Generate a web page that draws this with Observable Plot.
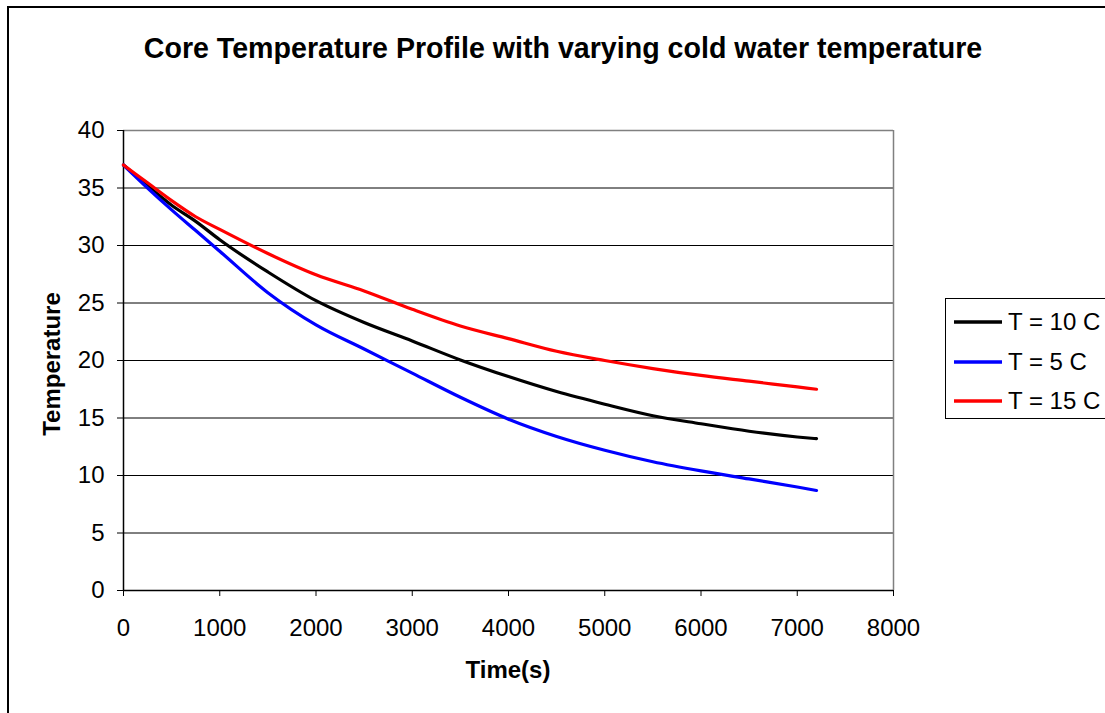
<!DOCTYPE html>
<html>
<head>
<meta charset="utf-8">
<script src="https://cdn.jsdelivr.net/npm/d3@7"></script>
<script src="https://cdn.jsdelivr.net/npm/@observablehq/plot@0.6"></script>
<style>
  html, body { margin: 0; padding: 0; background: #fff; overflow: hidden; }
  #wrap { position: relative; width: 1105px; height: 713px; font-family: "Liberation Sans", Arial, sans-serif; }
  #border { position: absolute; left: 7px; top: 6px; width: 1200px; height: 800px; border: 2px solid #000; box-sizing: border-box; }
  #chart { position: absolute; left: 0; top: 0; }
  .t { position: absolute; white-space: nowrap; color: #000; }
  #title { font-size: 28.6px; font-weight: bold; left: 563px; top: 48px; transform: translate(-50%, -50%); }
  #xlab { font-size: 24px; font-weight: bold; left: 508px; top: 670px; transform: translate(-50%, -50%); }
  #ylab { font-size: 24px; font-weight: bold; left: 52px; top: 364px; transform: translate(-50%, -50%) rotate(-90deg); }
  #legend { position: absolute; left: 945px; top: 298px; width: 200px; height: 121px; border: 1px solid #000; box-sizing: border-box; background: #fff; }
  .item { position: absolute; left: 7px; height: 30px; display: flex; align-items: center; font-size: 24px; }
  .item svg { margin-right: 5px; }
</style>
</head>
<body>
<div id="wrap">
  <div id="border"></div>
  <div id="chart"></div>
  <div id="title" class="t">Core Temperature Profile with varying cold water temperature</div>
  <div id="xlab" class="t">Time(s)</div>
  <div id="ylab" class="t">Temperature</div>
  <div id="legend"></div>
</div>
<script>
// Data
const times  = [0, 250, 500, 750, 1000, 1500, 2000, 2500, 3000, 3500, 4000, 4500, 5000, 5500, 6000, 6500, 7000, 7200];
const seriesNames = ["T = 10 C", "T = 5 C", "T = 15 C"];
const seriesColors = ["#000000", "#0000ff", "#ff0000"];
const temp10 = [37.0, 35.2, 33.5, 32.1, 30.5, 27.7, 25.2, 23.3, 21.7, 20.05, 18.6, 17.3, 16.2, 15.2, 14.5, 13.85, 13.35, 13.2];
const temp5  = [37.0, 35.0, 33.1, 31.3, 29.5, 25.9, 23.1, 21.0, 18.9, 16.8, 14.9, 13.4, 12.2, 11.2, 10.4, 9.7, 9.0, 8.7];
const temp15 = [37.0, 35.45, 33.9, 32.5, 31.4, 29.3, 27.45, 26.05, 24.45, 23.0, 21.9, 20.8, 20.0, 19.3, 18.7, 18.2, 17.7, 17.5];
const xTicks = [0, 1000, 2000, 3000, 4000, 5000, 6000, 7000, 8000];
const yTicks = [0, 5, 10, 15, 20, 25, 30, 35, 40];

const seriesValues = [temp10, temp5, temp15];
const data = [];
seriesNames.forEach((name, i) => {
  times.forEach((t, j) => data.push({series: name, t, v: seriesValues[i][j]}));
});

const chart = Plot.plot({
  width: 1105,
  height: 713,
  marginLeft: 123,
  marginRight: 212,
  marginTop: 130,
  marginBottom: 123,
  style: {fontFamily: '"Liberation Sans", Arial, sans-serif', fontSize: "24px", background: "transparent", color: "#000"},
  x: {domain: [0, 8000]},
  y: {domain: [0, 40]},
  color: {domain: seriesNames, range: seriesColors},
  marks: [
    Plot.gridY(yTicks.filter(d => d > 0 && d < 40), {stroke: "#000", strokeOpacity: 1}),
    Plot.ruleY([40], {stroke: "#808080", strokeWidth: 1.5}),
    Plot.ruleX([8000], {stroke: "#808080", strokeWidth: 1.5}),
    Plot.axisX({ticks: xTicks, tickFormat: d => String(d), tickSize: 6, tickPadding: 22, label: null, fontSize: 24, stroke: "#000"}),
    Plot.axisY({ticks: yTicks, tickFormat: d => String(d), tickSize: 6, tickPadding: 13, label: null, fontSize: 24, stroke: "#000"}),
    Plot.ruleX([0], {stroke: "#000", strokeWidth: 1.5}),
    Plot.ruleY([0], {stroke: "#000", strokeWidth: 1.5}),
    Plot.line(data, {x: "t", y: "v", z: "series", stroke: "series", strokeWidth: 3.2, curve: "monotone-x"})
  ]
});
document.getElementById("chart").appendChild(chart);

// Legend
const legend = document.getElementById("legend");
seriesNames.forEach((name, i) => {
  const item = document.createElement("div");
  item.className = "item";
  item.style.top = (8 + i * 39.5) + "px";
  item.innerHTML = `<svg width="50" height="10"><line x1="1" x2="49" y1="5" y2="5" stroke="${seriesColors[i]}" stroke-width="3.5"/></svg><span>${name}</span>`;
  legend.appendChild(item);
});
</script>
</body>
</html>
